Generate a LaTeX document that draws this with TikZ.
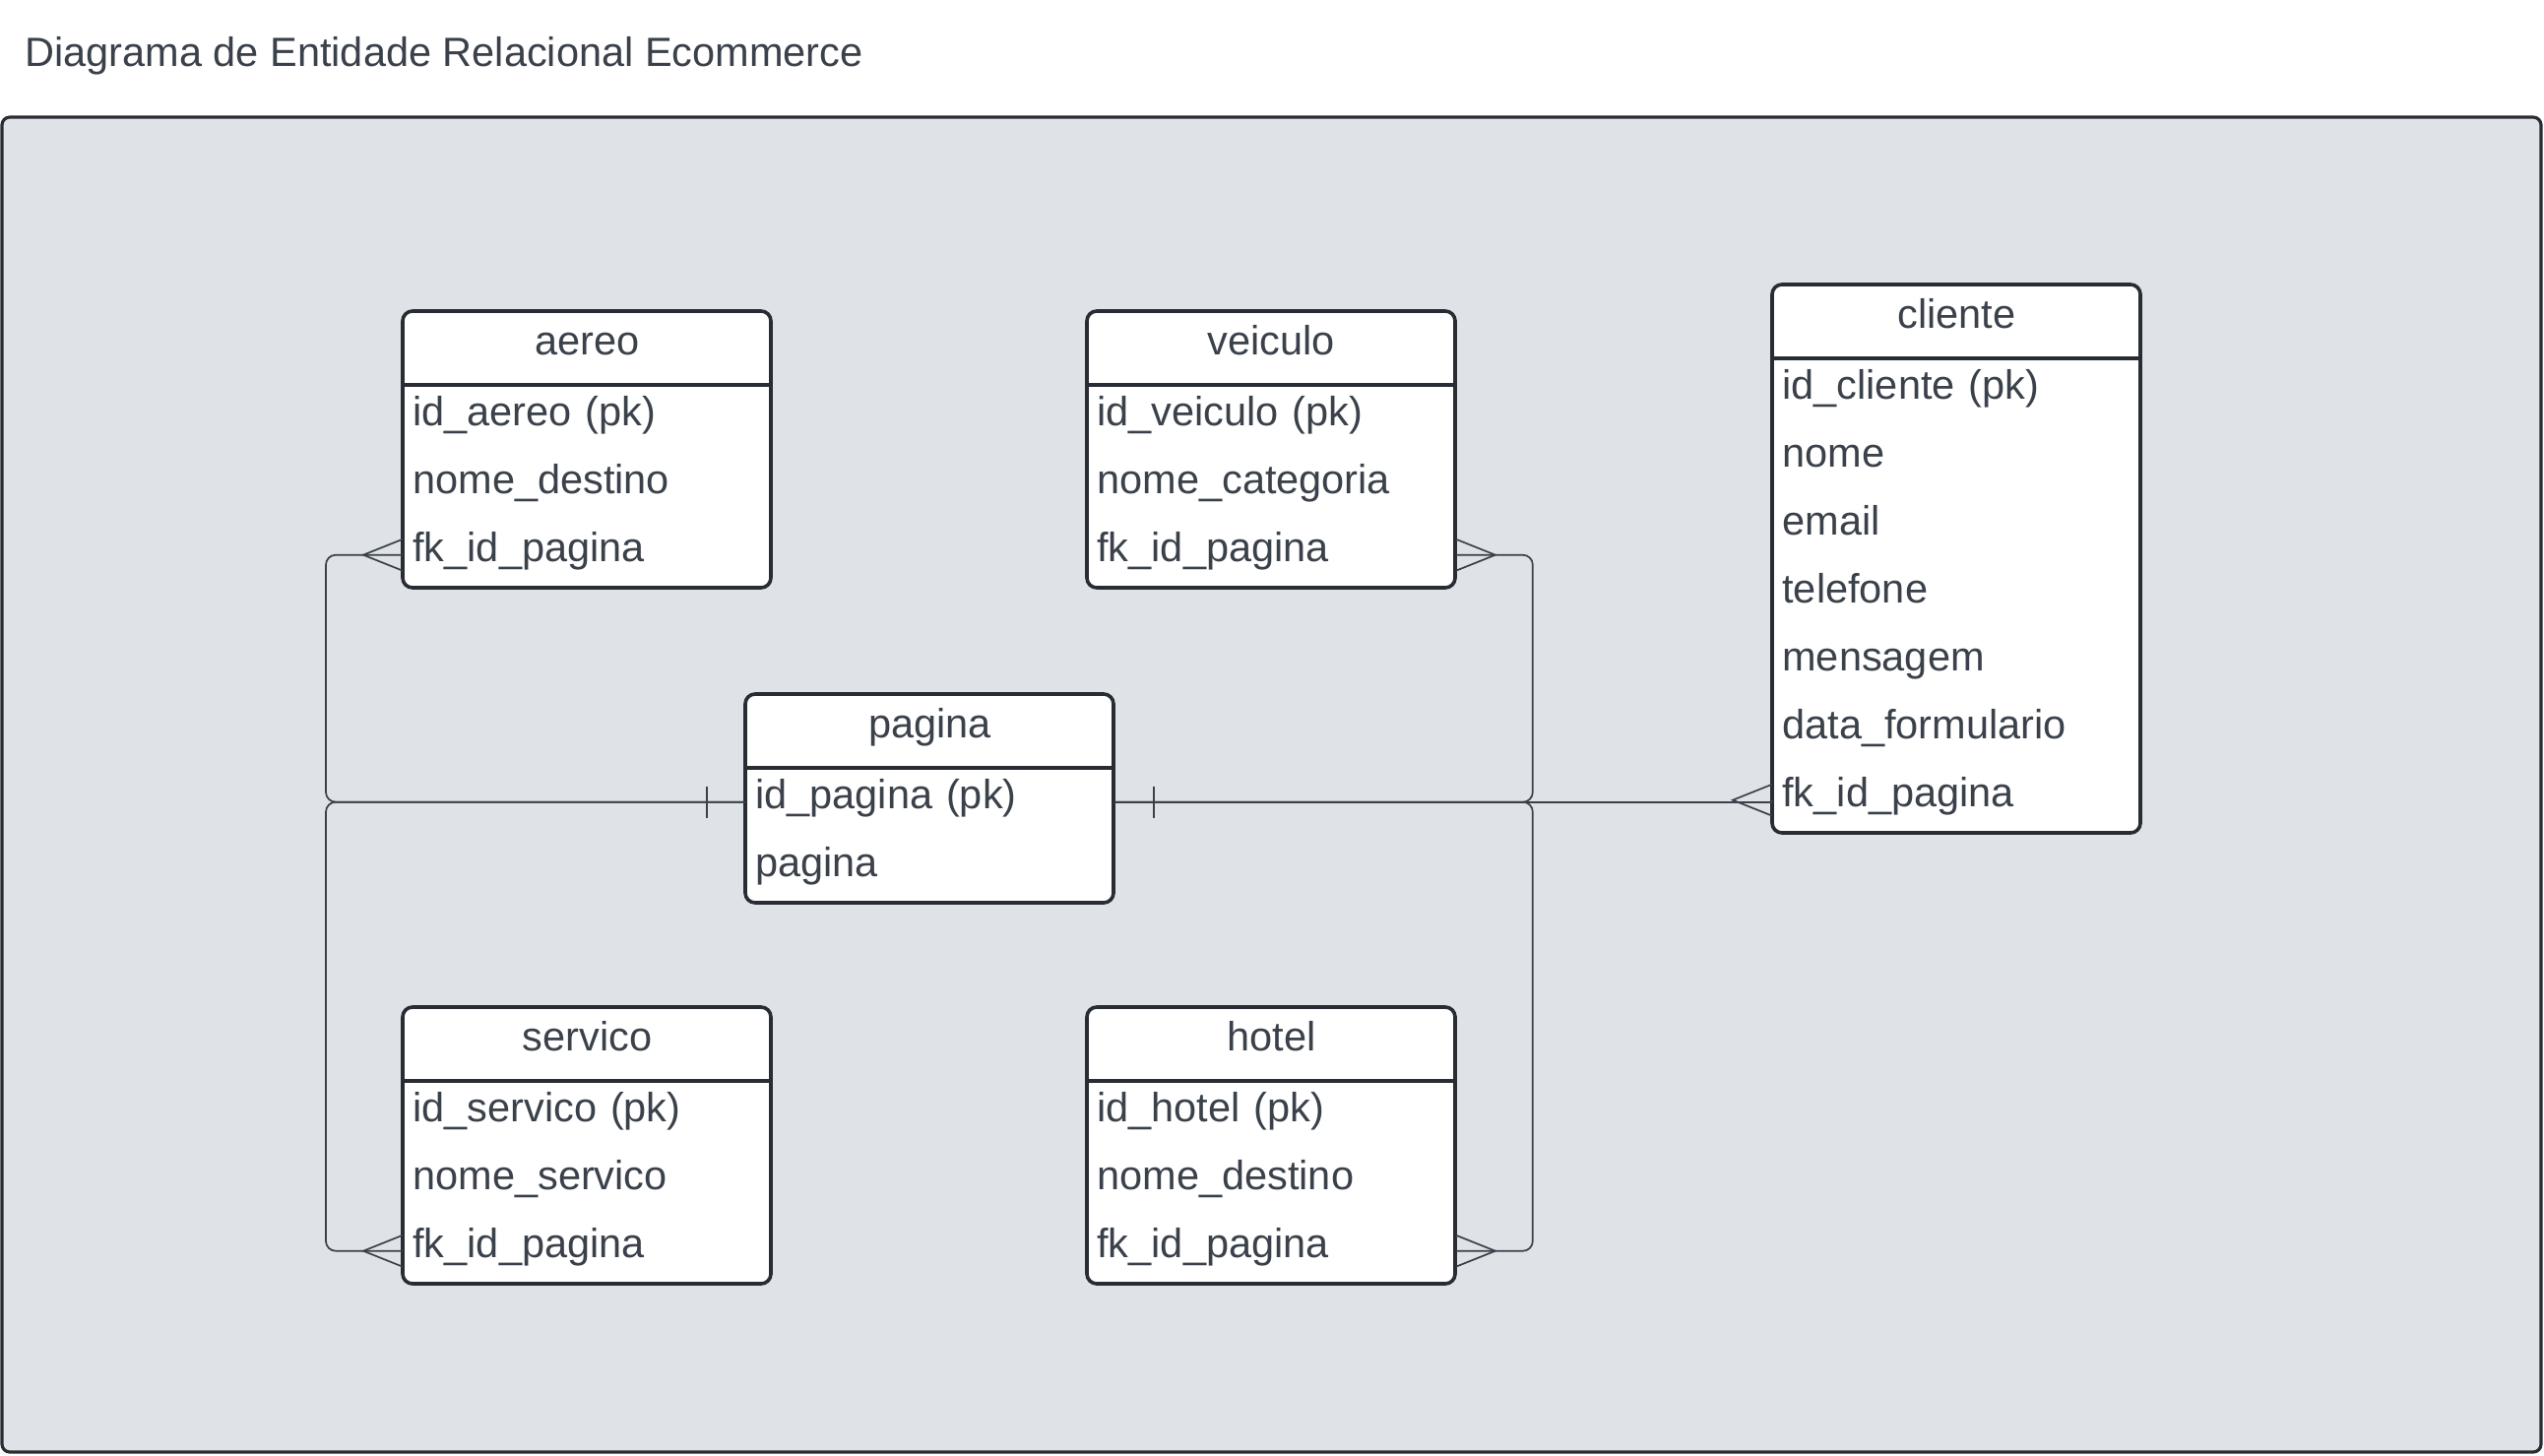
\documentclass[tikz,border=0pt]{standalone}
\usepackage{fontspec}
\setmainfont{Liberation Sans}
\usetikzlibrary{calc}
\definecolor{fundo}{HTML}{DFE3E8}
\definecolor{borda}{HTML}{282C33}
\definecolor{texto}{HTML}{3A414A}
\tikzset{
  caixa/.style={draw=borda, line width=1.8pt, rounded corners=5pt},
  cabec/.style={minimum width=187pt, minimum height=37pt, inner sep=0pt, text height=0.9em, text depth=0.21em},
  campo/.style={minimum width=187pt, minimum height=34.5pt, inner xsep=5pt, inner ysep=0pt,
    text width=177pt, align=left, text height=0.9em, text depth=0.21em},
  liga/.style={draw=texto, line width=0.85pt}
}
% tabela: nome, canto superior esquerdo, numero de campos, campos
\newcommand\tabela[4]{%
  \draw[caixa, fill=white] (#2) rectangle ++(374,{74+69*#3});
  \node[cabec, anchor=north west] (#1) at (#2) {#1};
  \draw[caixa] (#1.south west) -- (#1.south east);
  \foreach \campo [count=\i] in {#4}
    \node[campo, anchor=north west] (#1-\i) at ($(#1.south west)+(0,{69*(\i-1)})$) {\campo};
}
\newcommand\muitos[2]{\draw[liga] ($(#1)+(0,16)$) -- ($(#1)+(#2,0)$) -- ($(#1)+(0,-16)$);}
\newcommand\barra[2]{\draw[liga] ($(#1)+(#2,-16)$) -- ($(#1)+(#2,16)$);}
\begin{document}
\begin{tikzpicture}[x=0.5pt, y=-0.5pt, font=\fontsize{20.75pt}{25pt}\selectfont, text=texto]
\useasboundingbox (0,0) rectangle (2584,1478);
\node[anchor=base west, inner sep=0pt] (titulo) at (25,67) {Diagrama de Entidade Relacional Ecommerce};
\draw[draw=borda, fill=fundo, line width=1.6pt, rounded corners=4pt] (2,119) rectangle (2581,1475);

\tabela{aereo}{409,316}{3}{id\_aereo (pk), nome\_destino, fk\_id\_pagina}
\tabela{veiculo}{1104,316}{3}{id\_veiculo (pk), nome\_categoria, fk\_id\_pagina}
\tabela{cliente}{1800,289}{7}{id\_cliente (pk), nome, email, telefone, mensagem, data\_formulario, fk\_id\_pagina}
\tabela{pagina}{757,705}{2}{id\_pagina (pk), pagina}
\tabela{servico}{409,1023}{3}{id\_servico (pk), nome\_servico, fk\_id\_pagina}
\tabela{hotel}{1104,1023}{3}{id\_hotel (pk), nome\_destino, fk\_id\_pagina}

% ligacoes
\draw[liga, rounded corners=5pt] (aereo-3.west) -- ++(-78,0) |- (pagina-1.west);
\draw[liga, rounded corners=5pt] (servico-3.west) -- ++(-78,0) |- (pagina-1.west);
\draw[liga, rounded corners=5pt] (veiculo-3.east) -- ++(78,0) |- (pagina-1.east);
\draw[liga, rounded corners=5pt] (hotel-3.east) -- ++(78,0) |- (pagina-1.east);
\draw[liga] (cliente-7.west) -- (pagina-1.east -| cliente-7.west);
\draw[liga] (pagina-1.east) -- (pagina-1.east -| cliente-7.west);

\muitos{aereo-3.west}{-40}
\muitos{servico-3.west}{-40}
\muitos{veiculo-3.east}{40}
\muitos{hotel-3.east}{40}
\muitos{cliente-7.west}{-40}
\barra{pagina-1.west}{-39}
\barra{pagina-1.east}{40}
\end{tikzpicture}
\end{document}
